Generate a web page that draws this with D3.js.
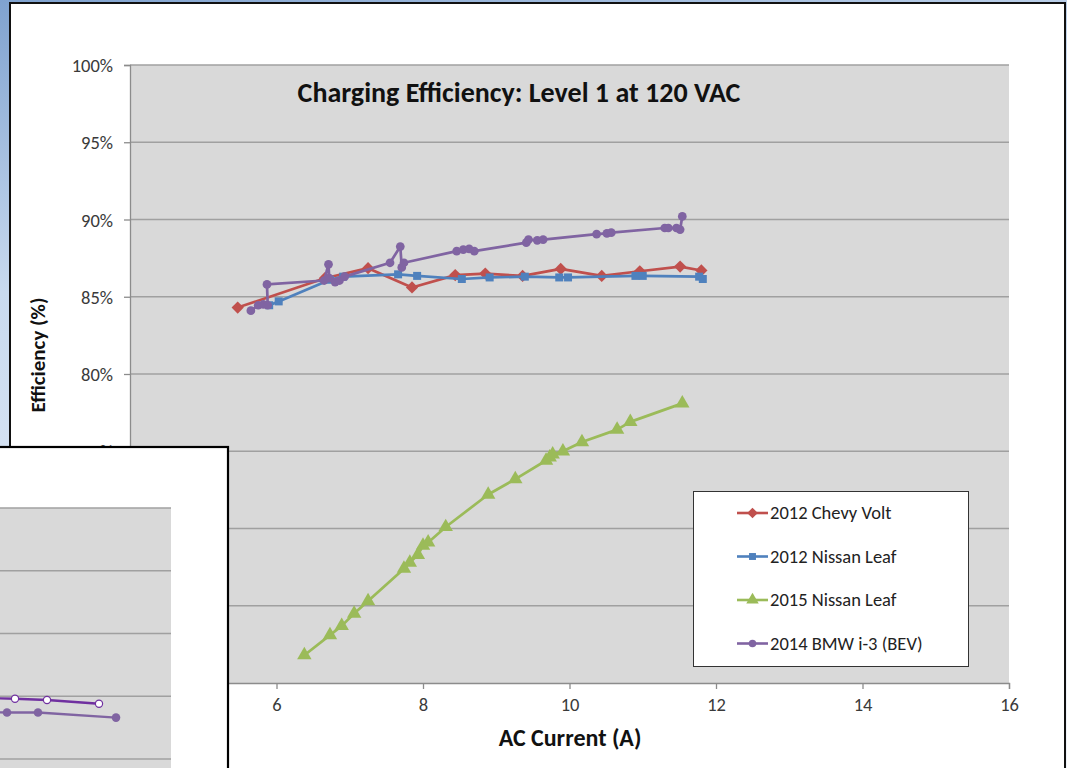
<!DOCTYPE html>
<html>
<head>
<meta charset="utf-8">
<script src="https://cdn.jsdelivr.net/npm/d3@7"></script>
<style>
html,body{margin:0;padding:0;background:#fff;}
svg{display:block;}
</style>
</head>
<body>
<script>
// ---------- data ----------
const chartTitle = "Charging Efficiency: Level 1 at 120 VAC";
const xTicks = [6, 8, 10, 12, 14, 16];
const yTicks = [0.60, 0.65, 0.70, 0.75, 0.80, 0.85, 0.90, 0.95, 1.00];
const seriesNames = ["2012 Chevy Volt", "2012 Nissan Leaf", "2015 Nissan Leaf", "2014 BMW i-3 (BEV)"];

const voltX = [5.47, 6.66, 7.25, 7.85, 8.44, 8.85, 9.36, 9.88, 10.44, 10.96, 11.51, 11.80];
const voltY = [84.3, 86.2, 86.85, 85.6, 86.4, 86.5, 86.35, 86.8, 86.35, 86.65, 86.95, 86.7];

const leaf12X = [5.90, 6.03, 6.73, 6.91, 7.66, 7.92, 8.53, 8.91, 9.39, 9.86, 9.98, 10.90, 11.00, 11.77, 11.82];
const leaf12Y = [84.45, 84.7, 86.1, 86.3, 86.45, 86.35, 86.15, 86.25, 86.3, 86.25, 86.25, 86.35, 86.35, 86.3, 86.15];

const leaf15X = [6.38, 6.73, 6.89, 7.06, 7.25, 7.74, 7.82, 7.93, 8.00, 8.07, 8.31, 8.89, 9.26, 9.68, 9.73, 9.77, 9.91, 10.17, 10.65, 10.83, 11.54];
const leaf15Y = [61.8, 63.1, 63.7, 64.5, 65.3, 67.4, 67.8, 68.3, 68.9, 69.1, 70.1, 72.2, 73.2, 74.4, 74.6, 74.8, 75.0, 75.6, 76.4, 76.9, 78.1];

const bmwX = [5.65, 5.75, 5.82, 5.88, 5.87, 6.65, 6.71, 6.72, 6.80, 6.86, 6.93, 7.55, 7.69, 7.71, 7.74, 8.46, 8.55, 8.63, 8.70, 9.41, 9.44, 9.56, 9.64, 10.37, 10.51, 10.57, 11.30, 11.35, 11.46, 11.51, 11.54];
const bmwY = [84.1, 84.45, 84.5, 84.45, 85.8, 86.05, 87.1, 86.2, 85.95, 86.05, 86.3, 87.2, 88.25, 86.9, 87.2, 87.95, 88.05, 88.1, 87.95, 88.5, 88.7, 88.65, 88.7, 89.05, 89.1, 89.15, 89.45, 89.45, 89.45, 89.35, 90.2];

// overlapping second chart (partially visible), in its own units
const insetGrid = [70, 75, 80, 85, 90];
const insetOpenX = [-30, 15, 47, 99];
const insetOpenY = [74.9, 74.8, 74.7, 74.4];
const insetFillX = [-30, 7, 38, 116];
const insetFillY = [73.8, 73.7, 73.7, 73.3];

// ---------- layout ----------
const W = 1067, H = 768;
const P = {left: 130, right: 1009, top: 65, bottom: 683};
const colors = ["#C0504D", "#4F81BD", "#9BBB59", "#8064A2"];
const font = "Calibri, Carlito, Lato, 'Liberation Sans', sans-serif";

const svg = d3.select("body").append("svg").attr("width", W).attr("height", H);
const defs = svg.append("defs");
const bg = defs.append("linearGradient").attr("id", "bg").attr("x1", 0).attr("y1", 0).attr("x2", 0.3).attr("y2", 1);
bg.append("stop").attr("offset", "0%").attr("stop-color", "#7fa2cf");
bg.append("stop").attr("offset", "35%").attr("stop-color", "#c9daef");
bg.append("stop").attr("offset", "100%").attr("stop-color", "#eef3fa");
svg.append("rect").attr("width", W).attr("height", H).attr("fill", "url(#bg)");

// main chart frame
svg.append("rect").attr("x", 10).attr("y", 3).attr("width", 1055).attr("height", 780)
  .attr("fill", "#fff").attr("stroke", "#111").attr("stroke-width", 2);

const x = d3.scaleLinear().domain([4, 16]).range([P.left, P.right]);
const y = d3.scaleLinear().domain([0.60, 1.00]).range([P.bottom, P.top]);

svg.append("rect").attr("x", P.left).attr("y", P.top)
  .attr("width", P.right - P.left).attr("height", P.bottom - P.top).attr("fill", "#D9D9D9");

// gridlines
svg.append("g").selectAll("line").data(yTicks.slice(1)).join("line")
  .attr("x1", P.left).attr("x2", P.right)
  .attr("y1", d => y(d)).attr("y2", d => y(d))
  .attr("stroke", "#A0A0A0").attr("stroke-width", 1.3);

// axes
const yAxis = svg.append("g").attr("transform", `translate(${P.left},0)`)
  .call(d3.axisLeft(y).tickValues(yTicks).tickFormat(d3.format(".0%")).tickSize(6).tickPadding(11));
const xAxis = svg.append("g").attr("transform", `translate(0,${P.bottom})`)
  .call(d3.axisBottom(x).tickValues(xTicks).tickFormat(d3.format("d")).tickSize(6).tickPadding(9));
[yAxis, xAxis].forEach(a => {
  a.select(".domain").attr("stroke", "#8c8c8c").attr("stroke-width", 1.3);
  a.selectAll(".tick line").attr("stroke", "#8c8c8c").attr("stroke-width", 1.3);
  a.selectAll("text").attr("font-family", font).attr("font-size", 18.5).attr("fill", "#3a3a3a");
});
yAxis.selectAll("text").attr("dy", "0.36em");

// titles
svg.append("text").attr("x", 519).attr("y", 102).attr("text-anchor", "middle")
  .attr("font-family", font).attr("font-weight", "bold").attr("font-size", 28).attr("fill", "#111")
  .text(chartTitle);
svg.append("text").attr("x", 570).attr("y", 746).attr("text-anchor", "middle")
  .attr("font-family", font).attr("font-weight", "bold").attr("font-size", 24).attr("fill", "#111")
  .text("AC Current (A)");
svg.append("text").attr("transform", "translate(45,355) rotate(-90)").attr("text-anchor", "middle")
  .attr("font-family", font).attr("font-weight", "bold").attr("font-size", 21).attr("fill", "#111")
  .text("Efficiency (%)");

// series
const diamond = {draw(ctx, size) { const r = Math.sqrt(size / 2); ctx.moveTo(0, -r); ctx.lineTo(r, 0); ctx.lineTo(0, r); ctx.lineTo(-r, 0); ctx.closePath(); }};
const series = [
  {xs: voltX, ys: voltY, sym: diamond, size: 75},
  {xs: leaf12X, ys: leaf12Y, sym: d3.symbolSquare, size: 64},
  {xs: leaf15X, ys: leaf15Y, sym: d3.symbolTriangle, size: 90},
  {xs: bmwX, ys: bmwY, sym: d3.symbolCircle, size: 60},
];
const line = d3.line().x(d => x(d[0])).y(d => y(d[1] / 100));
series.forEach((s, i) => {
  const pts = s.xs.map((v, j) => [v, s.ys[j]]);
  const g = svg.append("g");
  g.append("path").attr("d", line(pts)).attr("fill", "none")
    .attr("stroke", colors[i]).attr("stroke-width", 2.7).attr("stroke-linejoin", "round");
  g.selectAll("path.m").data(pts).join("path").attr("class", "m")
    .attr("transform", d => `translate(${x(d[0])},${y(d[1] / 100)})`)
    .attr("d", d3.symbol().type(s.sym).size(s.size)).attr("fill", colors[i]);
});

// legend
const lg = svg.append("g");
lg.append("rect").attr("x", 693.5).attr("y", 491.5).attr("width", 275).attr("height", 175)
  .attr("fill", "#fff").attr("stroke", "#333").attr("stroke-width", 1);
seriesNames.forEach((name, i) => {
  const yy = 513 + i * 43.5;
  lg.append("line").attr("x1", 737).attr("x2", 768).attr("y1", yy).attr("y2", yy)
    .attr("stroke", colors[i]).attr("stroke-width", 2.6);
  lg.append("path").attr("transform", `translate(752.5,${yy})`)
    .attr("d", d3.symbol().type(series[i].sym).size(series[i].size * 0.75)).attr("fill", colors[i]);
  lg.append("text").attr("x", 770).attr("y", yy + 6)
    .attr("font-family", font).attr("font-size", 18.5).attr("fill", "#222").text(name);
});

// ---------- overlapping second chart (lower left) ----------
const ins = svg.append("g");
ins.append("rect").attr("x", -10).attr("y", 447).attr("width", 238).attr("height", 340)
  .attr("fill", "#fff").attr("stroke", "#000").attr("stroke-width", 2.2);
const ix = d3.scaleLinear().domain([-30, 170]).range([-30, 170]);
const iy = d3.scaleLinear().domain([70, 90]).range([759, 508]);
ins.append("rect").attr("x", -5).attr("y", iy(90)).attr("width", 176).attr("height", 300).attr("fill", "#D9D9D9");
ins.selectAll("line.g").data(insetGrid).join("line").attr("class", "g")
  .attr("x1", -5).attr("x2", 171).attr("y1", d => iy(d)).attr("y2", d => iy(d))
  .attr("stroke", "#A0A0A0").attr("stroke-width", 1.3);
const iline = d3.line().x(d => ix(d[0])).y(d => iy(d[1]));
const fillPts = insetFillX.map((v, j) => [v, insetFillY[j]]);
const openPts = insetOpenX.map((v, j) => [v, insetOpenY[j]]);
ins.append("path").attr("d", iline(fillPts)).attr("fill", "none").attr("stroke", "#8064A2").attr("stroke-width", 2.4);
ins.selectAll("circle.f").data(fillPts).join("circle").attr("class", "f")
  .attr("cx", d => ix(d[0])).attr("cy", d => iy(d[1])).attr("r", 4.3).attr("fill", "#8064A2");
ins.append("path").attr("d", iline(openPts)).attr("fill", "none").attr("stroke", "#7030A0").attr("stroke-width", 2.4);
ins.selectAll("circle.o").data(openPts).join("circle").attr("class", "o")
  .attr("cx", d => ix(d[0])).attr("cy", d => iy(d[1])).attr("r", 3.6)
  .attr("fill", "#fff").attr("stroke", "#7030A0").attr("stroke-width", 1.2);
</script>
</body>
</html>
